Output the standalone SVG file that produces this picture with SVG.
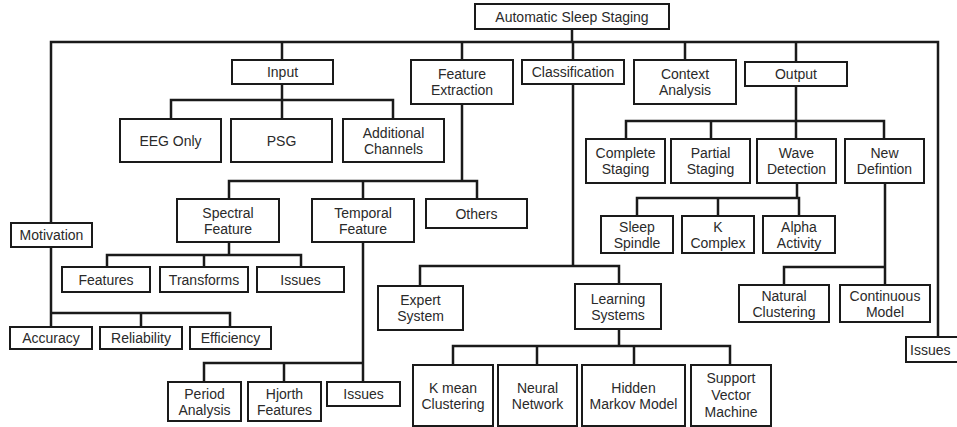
<svg xmlns="http://www.w3.org/2000/svg" width="957" height="427" viewBox="0 0 957 427">
  <style>
    .box rect { fill: #ffffff; stroke: #1a1a1a; stroke-width: 2; }
    .box text { font-family: "Liberation Sans", Arial, sans-serif; font-size: 14px; fill: #2a2a2a; text-anchor: middle; dominant-baseline: central; }
    #connectors path { fill: none; stroke: #1a1a1a; stroke-width: 2.5; stroke-linecap: square; stroke-linejoin: miter; }
  </style>
  <rect width="957" height="427" fill="#ffffff"/>

  <!-- connector lines of the tree -->
  <g id="connectors">
    <!-- root and main bus -->
    <path d="M572,29 V42 M51,42 H938 M51,42 V223 M282,42 V60 M462,42 V60 M573,42 V60 M685,42 V60 M796,42 V62 M938,42 V337"/>
    <!-- input -->
    <path d="M282,84 V100 M171,100 H393 M171,100 V119 M282,100 V119 M393,100 V119"/>
    <!-- feature extraction -->
    <path d="M462,104 V181 M229,181 H477 M229,181 V199 M363,181 V199 M477,181 V199"/>
    <!-- spectral feature -->
    <path d="M229,242 V255 M107,255 H301 M107,255 V267 M204,255 V267 M301,255 V267"/>
    <!-- temporal feature -->
    <path d="M363,242 V363 M204,363 H363 M204,363 V382 M284,363 V382 M363,363 V382"/>
    <!-- motivation -->
    <path d="M51,247 V313 M51,313 H230 M51,313 V327 M141,313 V327 M230,313 V327"/>
    <!-- classification -->
    <path d="M573,84 V266 M420,266 H619 M420,266 V286 M619,266 V284"/>
    <!-- learning systems -->
    <path d="M619,329 V346 M453,346 H730 M453,346 V365 M537,346 V365 M634,346 V365 M730,346 V365"/>
    <!-- output -->
    <path d="M796,86 V121 M626,121 H884 M626,121 V139 M711,121 V139 M796,121 V139 M884,121 V139"/>
    <!-- wave detection -->
    <path d="M797,183 V198 M637,198 H799 M637,198 V216 M718,198 V216 M799,198 V216"/>
    <!-- new definition -->
    <path d="M885,183 V267 M784,267 H885 M784,267 V285 M885,267 V285"/>
  </g>

  <!-- root -->
  <g id="root" class="box"><rect x="475" y="4" width="194" height="25"/><text x="572" y="16.5">Automatic Sleep Staging</text></g>

  <!-- first level -->
  <g id="input" class="box"><rect x="232" y="60" width="101" height="24"/><text x="282.5" y="72">Input</text></g>
  <g id="feature-extraction" class="box"><rect x="411" y="60" width="102" height="44"/><text x="462" y="74">Feature</text><text x="462" y="90">Extraction</text></g>
  <g id="classification" class="box"><rect x="522" y="60" width="102" height="24"/><text x="573" y="72">Classification</text></g>
  <g id="context-analysis" class="box"><rect x="634" y="60" width="102" height="44"/><text x="685" y="74">Context</text><text x="685" y="90">Analysis</text></g>
  <g id="output" class="box"><rect x="745" y="62" width="102" height="24"/><text x="796" y="74">Output</text></g>
  <g id="motivation" class="box"><rect x="11" y="223" width="81" height="24"/><text x="51.5" y="235">Motivation</text></g>
  <g id="issues-main" class="box"><rect x="906" y="337" width="70" height="25"/><text x="910" y="349.5" style="text-anchor:start">Issues</text></g>

  <!-- input children -->
  <g id="eeg-only" class="box"><rect x="120" y="119" width="101" height="43"/><text x="170.5" y="140.5">EEG Only</text></g>
  <g id="psg" class="box"><rect x="231" y="119" width="101" height="43"/><text x="281.5" y="140.5">PSG</text></g>
  <g id="additional-channels" class="box"><rect x="343" y="119" width="101" height="43"/><text x="393.5" y="132.5">Additional</text><text x="393.5" y="148.5">Channels</text></g>

  <!-- feature extraction children -->
  <g id="spectral-feature" class="box"><rect x="177" y="199" width="102" height="43"/><text x="228" y="212.5">Spectral</text><text x="228" y="228.5">Feature</text></g>
  <g id="temporal-feature" class="box"><rect x="312" y="199" width="102" height="43"/><text x="363" y="212.5">Temporal</text><text x="363" y="228.5">Feature</text></g>
  <g id="others" class="box"><rect x="426" y="199" width="101" height="29"/><text x="476.5" y="213.5">Others</text></g>

  <!-- spectral children -->
  <g id="features" class="box"><rect x="62" y="267" width="88" height="25"/><text x="106" y="279.5">Features</text></g>
  <g id="transforms" class="box"><rect x="160" y="267" width="88" height="25"/><text x="204" y="279.5">Transforms</text></g>
  <g id="spectral-issues" class="box"><rect x="257" y="267" width="87" height="25"/><text x="300.5" y="279.5">Issues</text></g>

  <!-- motivation children -->
  <g id="accuracy" class="box"><rect x="10" y="327" width="82" height="22"/><text x="51" y="338">Accuracy</text></g>
  <g id="reliability" class="box"><rect x="100" y="327" width="82" height="22"/><text x="141" y="338">Reliability</text></g>
  <g id="efficiency" class="box"><rect x="190" y="327" width="81" height="22"/><text x="230.5" y="338">Efficiency</text></g>

  <!-- temporal children -->
  <g id="period-analysis" class="box"><rect x="168" y="382" width="73" height="39"/><text x="204.5" y="393.5">Period</text><text x="204.5" y="409.5">Analysis</text></g>
  <g id="hjorth-features" class="box"><rect x="248" y="382" width="73" height="39"/><text x="284.5" y="393.5">Hjorth</text><text x="284.5" y="409.5">Features</text></g>
  <g id="temporal-issues" class="box"><rect x="327" y="382" width="73" height="24"/><text x="363.5" y="394">Issues</text></g>

  <!-- classification children -->
  <g id="expert-system" class="box"><rect x="378" y="286" width="85" height="44"/><text x="420.5" y="300">Expert</text><text x="420.5" y="316">System</text></g>
  <g id="learning-systems" class="box"><rect x="575" y="284" width="86" height="45"/><text x="618" y="298.5">Learning</text><text x="618" y="314.5">Systems</text></g>

  <!-- learning children -->
  <g id="k-mean" class="box"><rect x="413" y="365" width="80" height="61"/><text x="453" y="387.5">K mean</text><text x="453" y="403.5">Clustering</text></g>
  <g id="neural-network" class="box"><rect x="498" y="365" width="79" height="61"/><text x="537.5" y="387.5">Neural</text><text x="537.5" y="403.5">Network</text></g>
  <g id="hmm" class="box"><rect x="582" y="365" width="103" height="61"/><text x="633.5" y="387.5">Hidden</text><text x="633.5" y="403.5">Markov Model</text></g>
  <g id="svm" class="box"><rect x="691" y="365" width="80" height="61"/><text x="731" y="378">Support</text><text x="731" y="395">Vector</text><text x="731" y="412">Machine</text></g>

  <!-- output children -->
  <g id="complete-staging" class="box"><rect x="586" y="139" width="79" height="44"/><text x="625.5" y="153">Complete</text><text x="625.5" y="169">Staging</text></g>
  <g id="partial-staging" class="box"><rect x="671" y="139" width="79" height="44"/><text x="710.5" y="153">Partial</text><text x="710.5" y="169">Staging</text></g>
  <g id="wave-detection" class="box"><rect x="757" y="139" width="79" height="44"/><text x="796.5" y="153">Wave</text><text x="796.5" y="169">Detection</text></g>
  <g id="new-definition" class="box"><rect x="845" y="139" width="79" height="44"/><text x="884.5" y="153">New</text><text x="884.5" y="169">Defintion</text></g>

  <!-- wave detection children -->
  <g id="sleep-spindle" class="box"><rect x="601" y="216" width="72" height="37"/><text x="637" y="226.5">Sleep</text><text x="637" y="242.5">Spindle</text></g>
  <g id="k-complex" class="box"><rect x="682" y="216" width="72" height="37"/><text x="718" y="226.5">K</text><text x="718" y="242.5">Complex</text></g>
  <g id="alpha-activity" class="box"><rect x="763" y="216" width="72" height="37"/><text x="799" y="226.5">Alpha</text><text x="799" y="242.5">Activity</text></g>

  <!-- new definition children -->
  <g id="natural-clustering" class="box"><rect x="739" y="285" width="90" height="37"/><text x="784" y="295.5">Natural</text><text x="784" y="311.5">Clustering</text></g>
  <g id="continuous-model" class="box"><rect x="840" y="285" width="90" height="37"/><text x="885" y="295.5">Continuous</text><text x="885" y="311.5">Model</text></g>
</svg>
